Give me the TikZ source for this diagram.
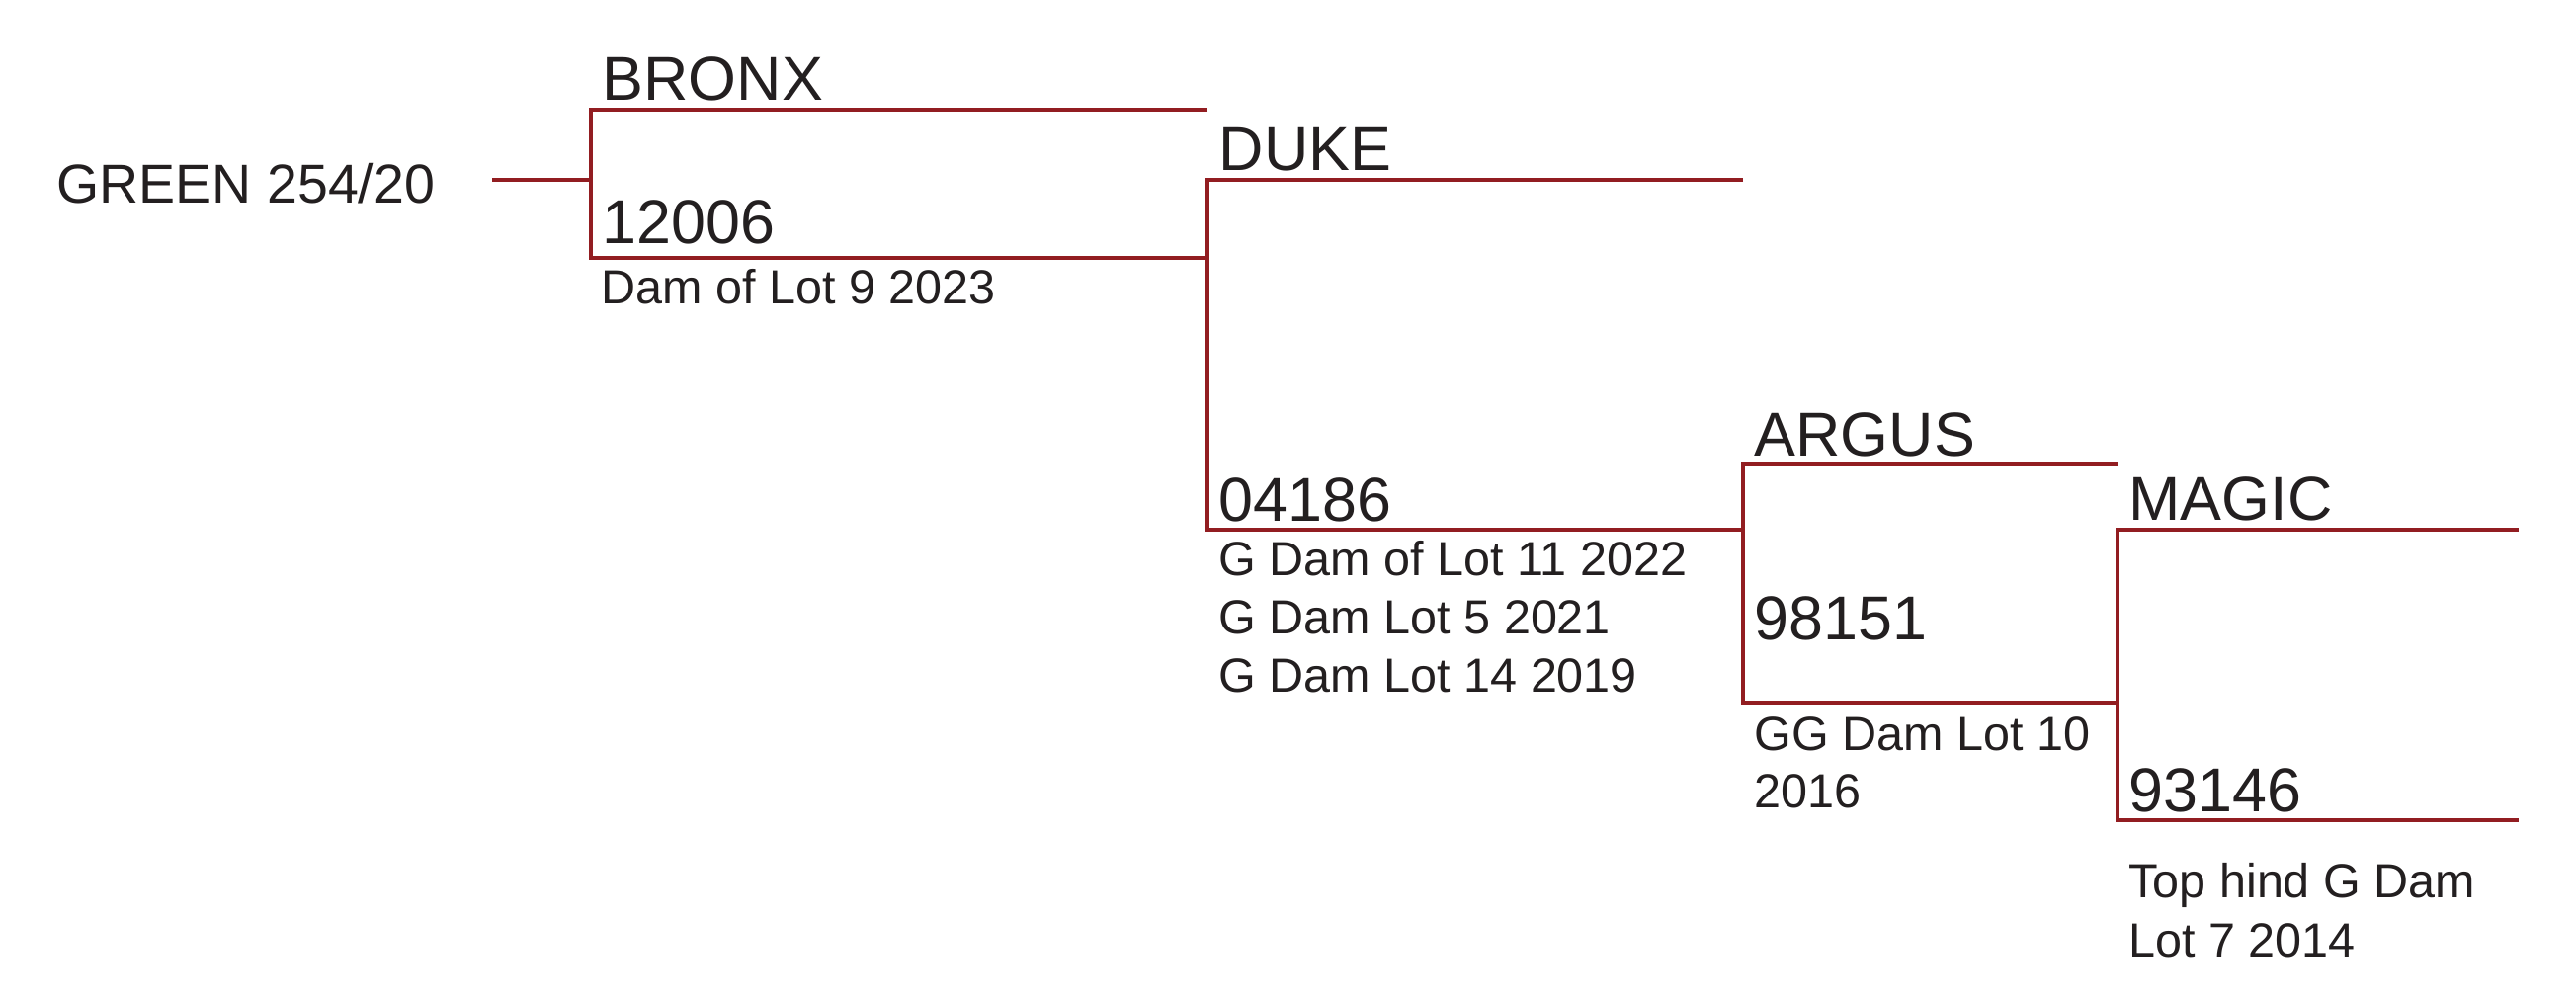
\documentclass[tikz,border=0pt]{standalone}
\usepackage{fontspec}
\setmainfont{Liberation Sans}
\definecolor{linered}{RGB}{146,29,33}
\definecolor{ink}{RGB}{35,31,32}
\begin{document}
\begin{tikzpicture}[x=0.3pt,y=-0.3pt,
  big/.style={font=\fontsize{18.84pt}{22pt}\selectfont, text=ink, anchor=base west, inner sep=0pt},
  rootlabel/.style={font=\fontsize{16.65pt}{20pt}\selectfont, text=ink, anchor=base west, inner sep=0pt},
  small/.style={font=\fontsize{14.55pt}{17pt}\selectfont, text=ink, anchor=base west, inner sep=0pt},
  link/.style={draw=linered, line width=1.26pt, line join=miter}]
\useasboundingbox (0,0) rectangle (2607,1015);
% bracket coordinates
\coordinate (g0) at (498,182);
\coordinate (b1m) at (598,182);
\coordinate (b1t) at (598,111);
\coordinate (b1tE) at (1222,111);
\coordinate (b1b) at (598,261);
\coordinate (b2j) at (1222,261);
\coordinate (b2t) at (1222,182);
\coordinate (b2tE) at (1764,182);
\coordinate (b2b) at (1222,536);
\coordinate (b3j) at (1764,536);
\coordinate (b3t) at (1764,470);
\coordinate (b3tE) at (2143,470);
\coordinate (b3b) at (1764,711);
\coordinate (b4j) at (2143,711);
\coordinate (b4t) at (2143,536);
\coordinate (b4tE) at (2549,536);
\coordinate (b4b) at (2143,830);
\coordinate (b4bE) at (2549,830);
% lines
\draw[link] (g0) -- (b1m);
\draw[link] (b1tE) -- (b1t) -- (b1b) -- (b2j);
\draw[link] (b2tE) -- (b2t) -- (b2b) -- (b3j);
\draw[link] (b3tE) -- (b3t) -- (b3b) -- (b4j);
\draw[link] (b4tE) -- (b4t) -- (b4b) -- (b4bE);
% labels
\node[rootlabel] (green) at (57,205) {GREEN 254/20};
\node[big] (bronx) at (609,101.7) {BRONX};
\node[big] (n12006) at (609,246) {12006};
\node[small] (note1) at (608,307.3) {Dam of Lot 9 2023};
\node[big] (duke) at (1233,172.5) {DUKE};
\node[big] (n04186) at (1233,527.3) {04186};
\node[small] (note2a) at (1233,582.7) {G Dam of Lot 11 2022};
\node[small] (note2b) at (1233,641.7) {G Dam Lot 5 2021};
\node[small] (note2c) at (1233,700.7) {G Dam Lot 14 2019};
\node[big] (argus) at (1775,461) {ARGUS};
\node[big] (n98151) at (1775,647.3) {98151};
\node[small] (note3a) at (1775,759) {GG Dam Lot 10};
\node[small] (note3b) at (1775,817.3) {2016};
\node[big] (magic) at (2154,526.7) {MAGIC};
\node[big] (n93146) at (2154,821.7) {93146};
\node[small] (note4a) at (2154,908.3) {Top hind G Dam};
\node[small] (note4b) at (2154,968.3) {Lot 7 2014};
\end{tikzpicture}
\end{document}
